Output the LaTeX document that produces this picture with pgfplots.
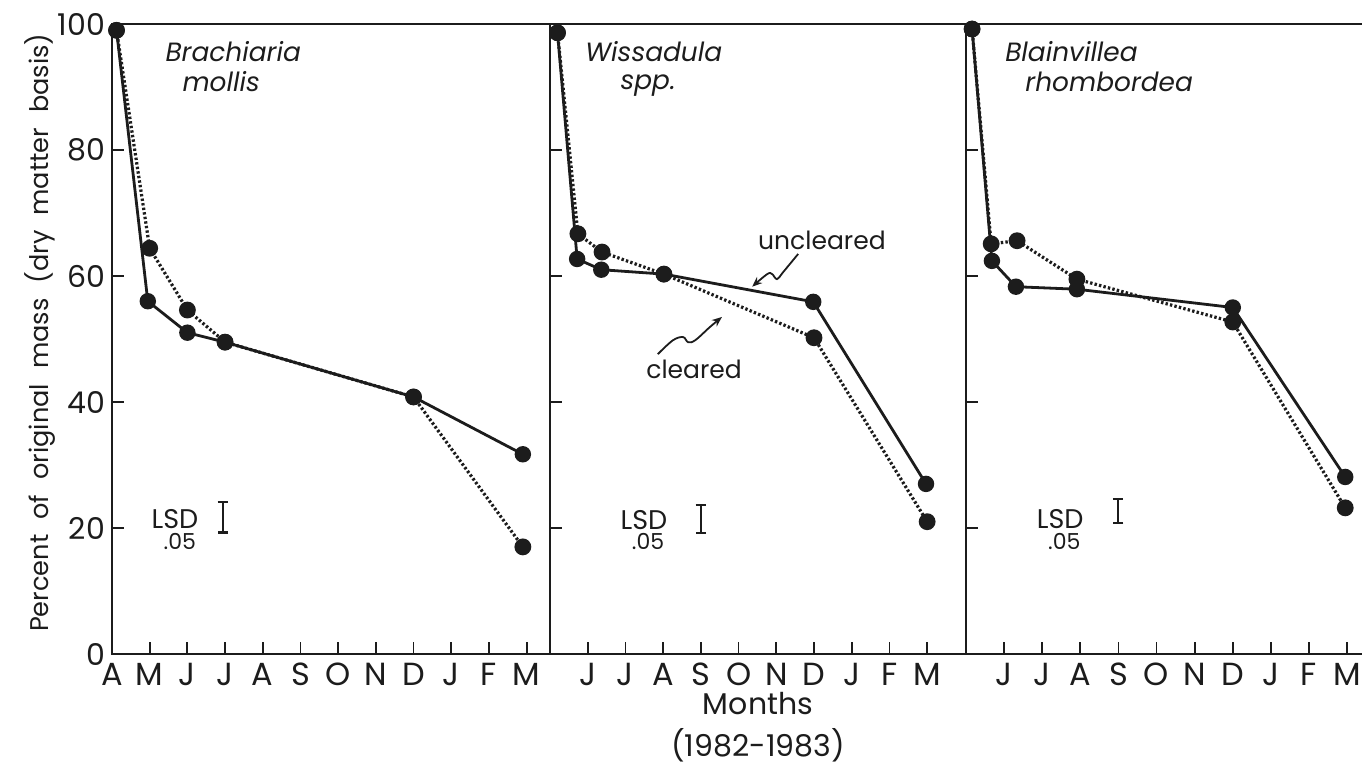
\documentclass[border=0pt]{standalone}
\usepackage{pgfplots}
\pgfplotsset{compat=1.18}
\usepackage{fontspec}
\setmainfont{Poppins}
\newfontfamily\ylabfont[WordSpace=2.2]{Poppins}
\usetikzlibrary{arrows.meta}

\definecolor{ink}{HTML}{1C1C1C}

% Decomposition series: months counted from April 1982 (0 = A, 11 = M)
% Brachiaria mollis
\pgfplotstableread{
x     y
0.12  99.0
0.95  56.0
2.00  51.0
3.00  49.5
8.00  40.8
10.90 31.7
}\brachUnc
\pgfplotstableread{
x     y
0.12  99.0
1.00  64.4
2.00  54.6
3.00  49.5
8.00  40.8
10.90 17.0
}\brachClr
% Wissadula spp.
\pgfplotstableread{
x     y
1.20  98.6
1.72  62.7
2.36  61.0
4.02  60.3
7.98  55.9
10.97 27.0
}\wissUnc
\pgfplotstableread{
x     y
1.20  98.6
1.74  66.7
2.38  63.8
4.02  60.3
8.00  50.2
11.00 21.0
}\wissClr
% Blainvillea rhombordea
\pgfplotstableread{
x     y
1.16  99.2
1.68  62.4
2.31  58.3
3.91  57.9
8.00  55.0
10.95 28.1
}\blainUnc
\pgfplotstableread{
x     y
1.16  99.2
1.66  65.1
2.34  65.6
3.91  59.5
8.00  52.7
10.95 23.2
}\blainClr

\pgfplotsset{
  panel/.style={
    scale only axis, height=315pt,
    ymin=0, ymax=100, ytick={0,20,...,100},
    axis line style={line width=1pt, draw=ink},
    tick align=inside, xtick pos=bottom, ytick pos=left,
    major tick length=6pt,
    tick style={line width=0.9pt, draw=ink},
    clip=false,
    /pgf/number format/assume math mode=true,
    every tick label/.append style={text=ink},
    xticklabel style={font=\fontsize{16}{18}\selectfont, yshift=-1pt},
    yticklabel style={font=\fontsize{15}{18}\selectfont},
  },
  unc/.style={draw=ink, line width=1.4pt, solid, mark=*, mark size=3.4pt,
    mark options={fill=ink, draw=ink, solid}},
  clr/.style={draw=ink, line width=1.6pt, dash pattern=on 1.2pt off 1.1pt,
    mark=*, mark size=3.4pt, mark options={fill=ink, draw=ink, solid}},
  % LSD(.05) interval drawn as an I-shaped error bar
  lsd/.style={draw=none, mark=none, forget plot,
    error bars/.cd, y dir=both, y explicit, error mark=-,
    error bar style={draw=ink, solid, line width=1.1pt},
    error mark options={draw=ink, solid, line width=1.1pt, mark size=2.6pt, rotate=90}},
}

\newcommand{\species}{\itshape\fontsize{13.2}{15}\selectfont}
\newcommand{\lsdfont}{\fontsize{13.5}{15}\selectfont}
\newcommand{\lsdsub}{\fontsize{11}{13}\selectfont}

\begin{document}
\begin{tikzpicture}
\path[use as bounding box] (-56pt,-59pt) rectangle (625pt,327pt);

% Brachiaria mollis
\begin{axis}[panel, at={(0pt,0pt)}, width=219pt,
  xmin=0, xmax=11.62, xtick={0,...,11},
  xticklabels={A,M,J,J,A,S,O,N,D,J,F,M},
  ylabel={Percent of original mass (dry matter basis)},
  ylabel style={font=\ylabfont\fontsize{12.8}{14}\selectfont, text=ink,
    at={(axis description cs:-0.164,0.51)}, anchor=center},
]
\addplot[clr] table[x=x, y=y] {\brachClr};
\addplot[unc] table[x=x, y=y] {\brachUnc};
\addplot[lsd] coordinates {(2.94,21.7) +- (0,2.4)};
\node[anchor=west, font=\species, text=ink, inner sep=0] at (axis cs:1.41,95.6) {Brachiaria};
\node[anchor=west, font=\species, text=ink, inner sep=0] at (axis cs:1.86,90.8) {mollis};
\node[font=\lsdfont, text=ink, inner sep=0] at (axis cs:1.67,21.4) {LSD};
\node[font=\lsdsub, text=ink, inner sep=0] at (axis cs:1.80,17.8) {.05};
\end{axis}

% Wissadula spp.
\begin{axis}[panel, at={(219pt,0pt)}, width=208pt,
  xmin=1, xmax=12.03, xtick={2,...,11},
  xticklabels={J,J,A,S,O,N,D,J,F,M},
  yticklabels={},
  xlabel={Months\\(1982-1983)},
  xlabel style={font=\fontsize{15}{21}\selectfont, text=ink, align=center,
    at={(axis description cs:0.5,0)}, anchor=north, inner sep=0, yshift=-19pt},
]
\addplot[clr] table[x=x, y=y] {\wissClr};
\addplot[unc] table[x=x, y=y] {\wissUnc};
\addplot[lsd] coordinates {(5.0,21.4) +- (0,2.2)};
\node[anchor=west, font=\species, text=ink, inner sep=0] at (axis cs:1.93,95.6) {Wissadula};
\node[anchor=west, font=\species, text=ink, inner sep=0] at (axis cs:2.86,90.3) {spp.};
\node[font=\fontsize{12.5}{14}\selectfont, text=ink, inner sep=0] at (axis cs:8.21,65.7) {uncleared};
\node[font=\fontsize{12.5}{14}\selectfont, text=ink, inner sep=0] at (axis cs:4.82,45.2) {cleared};
\draw[ink, line width=0.9pt, -{Stealth[length=5pt,width=4pt]}]
  plot[smooth, tension=0.6] coordinates {(axis cs:7.58,63.5) (axis cs:7.18,60.6)
    (axis cs:7.02,59.5) (axis cs:6.89,60.3) (axis cs:6.76,60.3) (axis cs:6.36,58.3)};
\draw[ink, line width=0.9pt, -{Stealth[length=5pt,width=4pt]}]
  plot[smooth, tension=0.6] coordinates {(axis cs:3.86,47.6) (axis cs:4.26,49.8)
    (axis cs:4.53,50.3) (axis cs:4.66,49.5) (axis cs:4.85,49.8) (axis cs:5.24,51.9)
    (axis cs:5.56,53.5)};
\node[font=\lsdfont, text=ink, inner sep=0] at (axis cs:3.49,21.3) {LSD};
\node[font=\lsdsub, text=ink, inner sep=0] at (axis cs:3.60,17.8) {.05};
\end{axis}

% Blainvillea rhombordea
\begin{axis}[panel, at={(427pt,0pt)}, width=202pt,
  xmin=1, xmax=11.6, xtick={2,...,11},
  xticklabels={J,J,A,S,O,N,D,J,F,M},
  yticklabels={},
]
\addplot[clr] table[x=x, y=y] {\blainClr};
\addplot[unc] table[x=x, y=y] {\blainUnc};
\addplot[lsd] coordinates {(4.99,22.7) +- (0,1.9)};
\node[anchor=west, font=\species, text=ink, inner sep=0] at (axis cs:2.02,95.6) {Blainvillea};
\node[anchor=west, font=\species, text=ink, inner sep=0] at (axis cs:2.55,90.8) {rhombordea};
\node[font=\lsdfont, text=ink, inner sep=0] at (axis cs:3.47,21.4) {LSD};
\node[font=\lsdsub, text=ink, inner sep=0] at (axis cs:3.58,17.9) {.05};
\end{axis}
\end{tikzpicture}
\end{document}
